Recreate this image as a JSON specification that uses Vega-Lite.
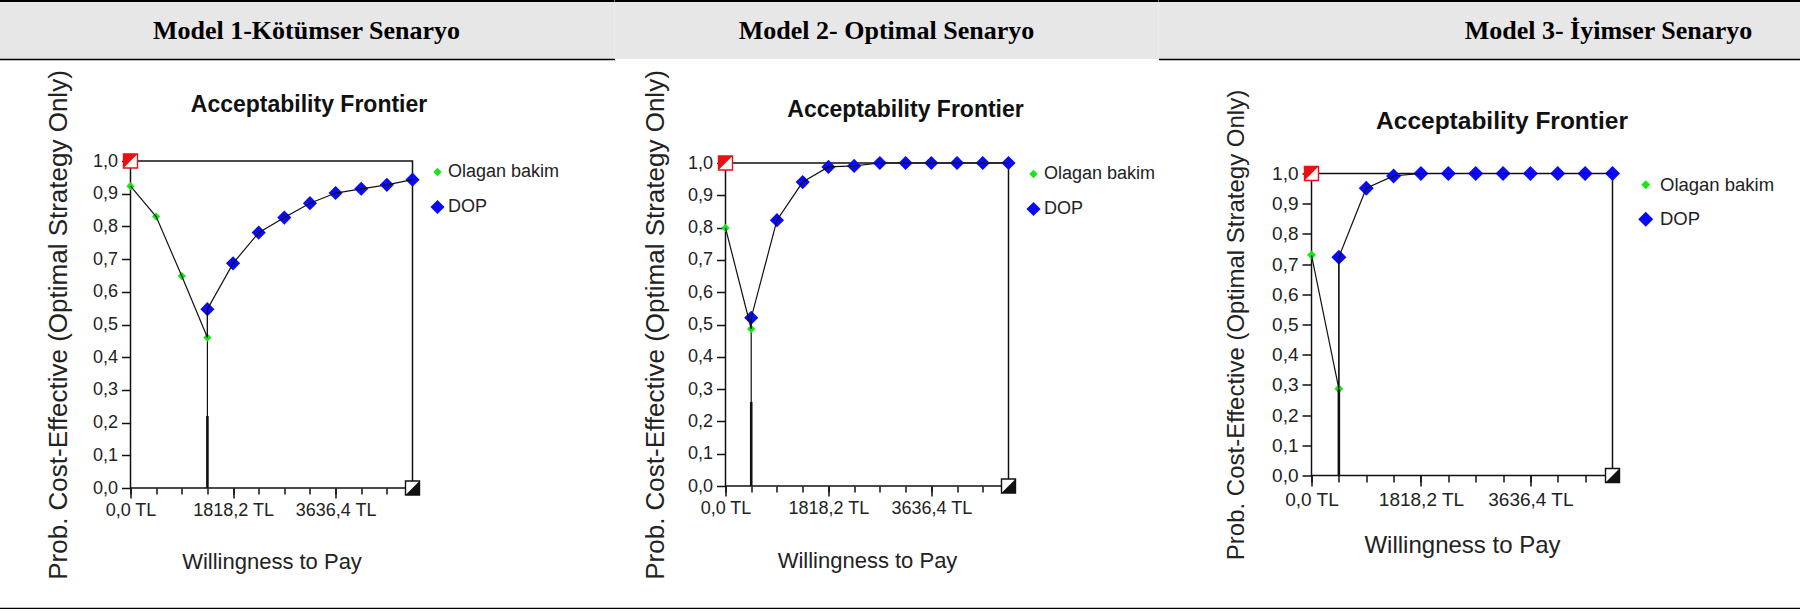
{
  "$schema": "https://vega.github.io/schema/vega-lite/v6.json",
  "background": "white",
  "padding": {"left": -1.5, "top": 0, "right": -259, "bottom": 0},
  "config": {"view": {"stroke": null}, "font": "Liberation Sans"},
  "datasets": {
    "hdr1": [{"model": "Model 1-Kötümser Senaryo"}],
    "hdr2": [{"model": "Model 2- Optimal Senaryo"}],
    "hdr3": [{"model": "Model 3- İyimser Senaryo"}],
    "footer": [{"k": "end"}],
    "gap": [{"k": "gap"}],
    "corner_start": [{"wtp": 0, "p": 1}],
    "corner_end": [{"wtp": 5000, "p": 0}],
    "m1_pts": [
      {"i": 0, "wtp": 0, "p": 0.923, "strategy": "Olagan bakim"},
      {"i": 1, "wtp": 454.5455, "p": 0.830, "strategy": "Olagan bakim"},
      {"i": 2, "wtp": 909.0909, "p": 0.648, "strategy": "Olagan bakim"},
      {"i": 3, "wtp": 1363.6364, "p": 0.460, "strategy": "Olagan bakim"},
      {"i": 4, "wtp": 1363.6364, "p": 0.547, "strategy": "DOP"},
      {"i": 5, "wtp": 1818.1818, "p": 0.687, "strategy": "DOP"},
      {"i": 6, "wtp": 2272.7273, "p": 0.781, "strategy": "DOP"},
      {"i": 7, "wtp": 2727.2727, "p": 0.827, "strategy": "DOP"},
      {"i": 8, "wtp": 3181.8182, "p": 0.871, "strategy": "DOP"},
      {"i": 9, "wtp": 3636.3636, "p": 0.902, "strategy": "DOP"},
      {"i": 10, "wtp": 4090.9091, "p": 0.915, "strategy": "DOP"},
      {"i": 11, "wtp": 4545.4545, "p": 0.927, "strategy": "DOP"},
      {"i": 12, "wtp": 5000, "p": 0.943, "strategy": "DOP"}
    ],
    "m1_drop": [{"wtp": 1363.6364, "lo": 0, "hi": 0.547}],
    "m1_bold": [{"wtp": 1363.6364, "lo": 0, "hi": 0.22}],
    "m2_pts": [
      {"i": 0, "wtp": 0, "p": 0.799, "strategy": "Olagan bakim"},
      {"i": 1, "wtp": 454.5455, "p": 0.486, "strategy": "Olagan bakim"},
      {"i": 2, "wtp": 454.5455, "p": 0.521, "strategy": "DOP"},
      {"i": 3, "wtp": 909.0909, "p": 0.823, "strategy": "DOP"},
      {"i": 4, "wtp": 1363.6364, "p": 0.941, "strategy": "DOP"},
      {"i": 5, "wtp": 1818.1818, "p": 0.988, "strategy": "DOP"},
      {"i": 6, "wtp": 2272.7273, "p": 0.991, "strategy": "DOP"},
      {"i": 7, "wtp": 2727.2727, "p": 1.0, "strategy": "DOP"},
      {"i": 8, "wtp": 3181.8182, "p": 1.0, "strategy": "DOP"},
      {"i": 9, "wtp": 3636.3636, "p": 1.0, "strategy": "DOP"},
      {"i": 10, "wtp": 4090.9091, "p": 1.0, "strategy": "DOP"},
      {"i": 11, "wtp": 4545.4545, "p": 1.0, "strategy": "DOP"},
      {"i": 12, "wtp": 5000, "p": 1.0, "strategy": "DOP"}
    ],
    "m2_drop": [{"wtp": 454.5455, "lo": 0, "hi": 0.521}],
    "m2_bold": [{"wtp": 454.5455, "lo": 0, "hi": 0.26}],
    "m3_pts": [
      {"i": 0, "wtp": 0, "p": 0.730, "strategy": "Olagan bakim"},
      {"i": 1, "wtp": 454.5455, "p": 0.287, "strategy": "Olagan bakim"},
      {"i": 2, "wtp": 454.5455, "p": 0.723, "strategy": "DOP"},
      {"i": 3, "wtp": 909.0909, "p": 0.951, "strategy": "DOP"},
      {"i": 4, "wtp": 1363.6364, "p": 0.992, "strategy": "DOP"},
      {"i": 5, "wtp": 1818.1818, "p": 1.0, "strategy": "DOP"},
      {"i": 6, "wtp": 2272.7273, "p": 1.0, "strategy": "DOP"},
      {"i": 7, "wtp": 2727.2727, "p": 1.0, "strategy": "DOP"},
      {"i": 8, "wtp": 3181.8182, "p": 1.0, "strategy": "DOP"},
      {"i": 9, "wtp": 3636.3636, "p": 1.0, "strategy": "DOP"},
      {"i": 10, "wtp": 4090.9091, "p": 1.0, "strategy": "DOP"},
      {"i": 11, "wtp": 4545.4545, "p": 1.0, "strategy": "DOP"},
      {"i": 12, "wtp": 5000, "p": 1.0, "strategy": "DOP"}
    ],
    "m3_drop": [{"wtp": 454.5455, "lo": 0, "hi": 0.723}],
    "m3_bold": [{"wtp": 454.5455, "lo": 0, "hi": 0.285}]
  },
  "spacing": 9,
  "vconcat": [
    {
      "spacing": 0,
      "bounds": "flush",
      "hconcat": [
        {
          "width": 616, "height": 59,
          "view": {"fill": "#e7e7e7", "stroke": null},
          "data": {"name": "hdr1"},
          "resolve": {"axis": {"x": "independent"}},
          "layer": [
            {"mark": {"type": "text", "font": "Liberation Serif", "fontWeight": "bold", "fontSize": 26, "color": "#000", "baseline": "middle", "dy": 1.5},
             "encoding": {"x": {"field": "model", "type": "nominal", "axis": {"orient": "top", "title": null, "labels": false, "ticks": false, "grid": false, "domainColor": "#000", "domainWidth": 3}},
                          "y": {"datum": 0.5, "type": "quantitative", "scale": {"domain": [0, 1]}, "axis": null},
                          "text": {"field": "model"}}},
            {"mark": {"type": "text", "text": ""},
             "encoding": {"x": {"field": "model", "type": "nominal", "axis": {"orient": "bottom", "title": null, "labels": false, "ticks": false, "grid": false, "domainColor": "#000", "domainWidth": 1.5}},
                          "y": {"datum": 0.5, "type": "quantitative", "axis": null}}}
          ]
        },
        {
          "width": 544, "height": 59,
          "view": {"fill": "#e7e7e7", "stroke": null},
          "data": {"name": "hdr2"},
          "mark": {"type": "text", "font": "Liberation Serif", "fontWeight": "bold", "fontSize": 26, "color": "#000", "baseline": "middle", "dy": 1.5},
          "encoding": {"x": {"field": "model", "type": "nominal", "axis": {"orient": "top", "title": null, "labels": false, "ticks": false, "grid": false, "domainColor": "#000", "domainWidth": 3}},
                       "y": {"datum": 0.5, "type": "quantitative", "scale": {"domain": [0, 1]}, "axis": null},
                       "text": {"field": "model"}}
        },
        {
          "width": 900, "height": 59,
          "view": {"fill": "#e7e7e7", "stroke": null},
          "data": {"name": "hdr3"},
          "resolve": {"axis": {"x": "independent"}},
          "layer": [
            {"mark": {"type": "text", "font": "Liberation Serif", "fontWeight": "bold", "fontSize": 26, "color": "#000", "baseline": "middle", "dy": 1.5},
             "encoding": {"x": {"field": "model", "type": "nominal", "axis": {"orient": "top", "title": null, "labels": false, "ticks": false, "grid": false, "domainColor": "#000", "domainWidth": 3}},
                          "y": {"datum": 0.5, "type": "quantitative", "scale": {"domain": [0, 1]}, "axis": null},
                          "text": {"field": "model"}}},
            {"mark": {"type": "text", "text": ""},
             "encoding": {"x": {"field": "model", "type": "nominal", "axis": {"orient": "bottom", "title": null, "labels": false, "ticks": false, "grid": false, "domainColor": "#000", "domainWidth": 1.5}},
                          "y": {"datum": 0.5, "type": "quantitative", "axis": null}}}
          ]
        }
      ]
    },
    {
      "spacing": 0,
      "bounds": "flush",
      "center": true,
      "resolve": {"scale": {"color": "independent", "shape": "independent", "size": "independent"}},
      "hconcat": [
        {"width": 132, "height": 1, "view": {"stroke": null}, "data": {"name": "gap"}, "mark": {"type": "text", "text": ""}},
        {
          "width": 282, "height": 327,
          "view": {"stroke": "#111", "strokeWidth": 1.5},
          "resolve": {"axis": {"x": "independent", "y": "independent"}},
          "layer": [
            {
              "data": {"name": "m1_drop"},
              "mark": {"type": "rule", "color": "#111", "strokeWidth": 1.2},
              "encoding": {
                "x": {"field": "wtp", "type": "quantitative", "scale": {"domain": [0, 5000], "nice": false, "zero": false},
                  "axis": {"orient": "bottom", "values": [0, 454.5455, 909.0909, 1363.6364, 1818.1818, 2272.7273, 2727.2727, 3181.8182, 3636.3636, 4090.9091, 4545.4545, 5000], "tickSize": 6, "tickWidth": 1.5, "tickColor": "#111", "labels": false, "domain": false, "grid": false, "title": null}},
                "y": {"field": "lo", "type": "quantitative", "scale": {"domain": [0, 1], "nice": false},
                  "axis": {"orient": "left", "values": [0, 0.1, 0.2, 0.3, 0.4, 0.5, 0.6, 0.7, 0.8, 0.9, 1], "tickSize": 9, "tickWidth": 1.5, "tickColor": "#111", "domain": false, "grid": false, "labelFontSize": 18, "labelPadding": 4, "labelColor": "#222", "labelOverlap": false, "labelExpr": "replace(format(datum.value, '.1f'), '.', ',')", "title": "Prob. Cost-Effective (Optimal Strategy Only)", "titleFontSize": 26, "titleFontWeight": "normal", "titleColor": "#222", "titleX": -63.7, "titleBaseline": "alphabetic"}},
                "y2": {"field": "hi"}
              }
            },
            {
              "data": {"name": "m1_pts"},
              "mark": {"type": "point", "filled": true, "opacity": 1, "strokeWidth": 0},
              "encoding": {
                "x": {"field": "wtp", "type": "quantitative", "axis": {"orient": "top", "domain": false, "ticks": false, "labels": false, "grid": false, "title": "Acceptability Frontier", "titleFontSize": 23, "titleFontWeight": "bold", "titleColor": "#111", "titleX": 178, "titleY": -49.5, "titleBaseline": "alphabetic"}},
                "y": {"field": "p", "type": "quantitative", "axis": null},
                "color": {"field": "strategy", "type": "nominal", "title": null, "scale": {"domain": ["Olagan bakim", "DOP"], "range": ["#19e619", "#0a0af5"]},
                  "legend": {"orient": "right", "offset": 14, "padding": 2, "rowPadding": 17, "labelOffset": 1.5, "labelFontSize": 18, "labelColor": "#222", "symbolStrokeWidth": 0, "symbolOpacity": 1}},
                "shape": {"field": "strategy", "type": "nominal", "title": null, "scale": {"domain": ["Olagan bakim", "DOP"], "range": ["diamond", "diamond"]}},
                "size": {"field": "strategy", "type": "nominal", "title": null, "scale": {"domain": ["Olagan bakim", "DOP"], "range": [70, 200]}}
              }
            },
            {
              "data": {"name": "m1_pts"},
              "mark": {"type": "line", "color": "#111", "strokeWidth": 1.2},
              "encoding": {
                "x": {"field": "wtp", "type": "quantitative",
                  "axis": {"orient": "bottom", "values": [0, 1818.1818, 3636.3636], "tickSize": 10, "tickWidth": 1.5, "tickColor": "#111", "domain": false, "grid": false, "labelFontSize": 18, "labelColor": "#222", "labelPadding": 3.5, "labelFlush": false, "labelOverlap": false, "labelExpr": "replace(format(datum.value, '.1f'), '.', ',') + ' TL'", "title": "Willingness to Pay", "titleFontSize": 22, "titleFontWeight": "normal", "titleColor": "#222", "titleY": 63.5, "titleBaseline": "top"}},
                "y": {"field": "p", "type": "quantitative", "axis": null},
                "order": {"field": "i", "type": "quantitative"}
              }
            },
            {
              "data": {"name": "m1_bold"},
              "mark": {"type": "rule", "color": "#111", "strokeWidth": 2.6},
              "encoding": {"x": {"field": "wtp", "type": "quantitative", "axis": null}, "y": {"field": "lo", "type": "quantitative", "axis": null}, "y2": {"field": "hi"}}
            },
            {
              "data": {"name": "corner_start"},
              "mark": {"type": "point", "shape": "square", "size": 196, "filled": true, "fill": "white", "stroke": "#e81010", "strokeWidth": 1.4, "opacity": 1},
              "encoding": {"x": {"field": "wtp", "type": "quantitative", "axis": null}, "y": {"field": "p", "type": "quantitative", "axis": null}}
            },
            {
              "data": {"name": "corner_start"},
              "mark": {"type": "point", "shape": "M-1,-1L1,-1L-1,1Z", "size": 196, "filled": true, "color": "#e81010", "opacity": 1, "strokeWidth": 0},
              "encoding": {"x": {"field": "wtp", "type": "quantitative", "axis": null}, "y": {"field": "p", "type": "quantitative", "axis": null}}
            },
            {
              "data": {"name": "corner_end"},
              "mark": {"type": "point", "shape": "square", "size": 196, "filled": true, "fill": "white", "stroke": "#111", "strokeWidth": 1.4, "opacity": 1},
              "encoding": {"x": {"field": "wtp", "type": "quantitative", "axis": null}, "y": {"field": "p", "type": "quantitative", "axis": null}}
            },
            {
              "data": {"name": "corner_end"},
              "mark": {"type": "point", "shape": "M1,-1L1,1L-1,1Z", "size": 196, "filled": true, "color": "#111", "opacity": 1, "strokeWidth": 0},
              "encoding": {"x": {"field": "wtp", "type": "quantitative", "axis": null}, "y": {"field": "p", "type": "quantitative", "axis": null}}
            }
          ]
        },
        {"width": 313, "height": 1, "view": {"stroke": null}, "data": {"name": "gap"}, "mark": {"type": "text", "text": ""}},
        {
          "width": 283, "height": 323,
          "view": {"stroke": "#111", "strokeWidth": 1.5},
          "resolve": {"axis": {"x": "independent", "y": "independent"}},
          "layer": [
            {
              "data": {"name": "m2_drop"},
              "mark": {"type": "rule", "color": "#111", "strokeWidth": 1.2},
              "encoding": {
                "x": {"field": "wtp", "type": "quantitative", "scale": {"domain": [0, 5000], "nice": false, "zero": false},
                  "axis": {"orient": "bottom", "values": [0, 454.5455, 909.0909, 1363.6364, 1818.1818, 2272.7273, 2727.2727, 3181.8182, 3636.3636, 4090.9091, 4545.4545, 5000], "tickSize": 6, "tickWidth": 1.5, "tickColor": "#111", "labels": false, "domain": false, "grid": false, "title": null}},
                "y": {"field": "lo", "type": "quantitative", "scale": {"domain": [0, 1], "nice": false},
                  "axis": {"orient": "left", "values": [0, 0.1, 0.2, 0.3, 0.4, 0.5, 0.6, 0.7, 0.8, 0.9, 1], "tickSize": 9, "tickWidth": 1.5, "tickColor": "#111", "domain": false, "grid": false, "labelFontSize": 18, "labelPadding": 4, "labelColor": "#222", "labelOverlap": false, "labelExpr": "replace(format(datum.value, '.1f'), '.', ',')", "title": "Prob. Cost-Effective (Optimal Strategy Only)", "titleFontSize": 26, "titleFontWeight": "normal", "titleColor": "#222", "titleX": -62.1, "titleBaseline": "alphabetic"}},
                "y2": {"field": "hi"}
              }
            },
            {
              "data": {"name": "m2_pts"},
              "mark": {"type": "point", "filled": true, "opacity": 1, "strokeWidth": 0},
              "encoding": {
                "x": {"field": "wtp", "type": "quantitative", "axis": {"orient": "top", "domain": false, "ticks": false, "labels": false, "grid": false, "title": "Acceptability Frontier", "titleFontSize": 23, "titleFontWeight": "bold", "titleColor": "#111", "titleX": 179.5, "titleY": -47, "titleBaseline": "alphabetic"}},
                "y": {"field": "p", "type": "quantitative", "axis": null},
                "color": {"field": "strategy", "type": "nominal", "title": null, "scale": {"domain": ["Olagan bakim", "DOP"], "range": ["#19e619", "#0a0af5"]},
                  "legend": {"orient": "right", "offset": 14, "padding": 2, "rowPadding": 17, "labelOffset": 1.5, "labelFontSize": 18, "labelColor": "#222", "symbolStrokeWidth": 0, "symbolOpacity": 1}},
                "shape": {"field": "strategy", "type": "nominal", "title": null, "scale": {"domain": ["Olagan bakim", "DOP"], "range": ["diamond", "diamond"]}},
                "size": {"field": "strategy", "type": "nominal", "title": null, "scale": {"domain": ["Olagan bakim", "DOP"], "range": [70, 200]}}
              }
            },
            {
              "data": {"name": "m2_pts"},
              "mark": {"type": "line", "color": "#111", "strokeWidth": 1.2},
              "encoding": {
                "x": {"field": "wtp", "type": "quantitative",
                  "axis": {"orient": "bottom", "values": [0, 1818.1818, 3636.3636], "tickSize": 10, "tickWidth": 1.5, "tickColor": "#111", "domain": false, "grid": false, "labelFontSize": 18, "labelColor": "#222", "labelPadding": 3, "labelFlush": false, "labelOverlap": false, "labelExpr": "replace(format(datum.value, '.1f'), '.', ',') + ' TL'", "title": "Willingness to Pay", "titleFontSize": 22, "titleFontWeight": "normal", "titleColor": "#222", "titleY": 64, "titleBaseline": "top"}},
                "y": {"field": "p", "type": "quantitative", "axis": null},
                "order": {"field": "i", "type": "quantitative"}
              }
            },
            {
              "data": {"name": "m2_bold"},
              "mark": {"type": "rule", "color": "#111", "strokeWidth": 2.6},
              "encoding": {"x": {"field": "wtp", "type": "quantitative", "axis": null}, "y": {"field": "lo", "type": "quantitative", "axis": null}, "y2": {"field": "hi"}}
            },
            {
              "data": {"name": "corner_start"},
              "mark": {"type": "point", "shape": "square", "size": 196, "filled": true, "fill": "white", "stroke": "#e81010", "strokeWidth": 1.4, "opacity": 1},
              "encoding": {"x": {"field": "wtp", "type": "quantitative", "axis": null}, "y": {"field": "p", "type": "quantitative", "axis": null}}
            },
            {
              "data": {"name": "corner_start"},
              "mark": {"type": "point", "shape": "M-1,-1L1,-1L-1,1Z", "size": 196, "filled": true, "color": "#e81010", "opacity": 1, "strokeWidth": 0},
              "encoding": {"x": {"field": "wtp", "type": "quantitative", "axis": null}, "y": {"field": "p", "type": "quantitative", "axis": null}}
            },
            {
              "data": {"name": "corner_end"},
              "mark": {"type": "point", "shape": "square", "size": 196, "filled": true, "fill": "white", "stroke": "#111", "strokeWidth": 1.4, "opacity": 1},
              "encoding": {"x": {"field": "wtp", "type": "quantitative", "axis": null}, "y": {"field": "p", "type": "quantitative", "axis": null}}
            },
            {
              "data": {"name": "corner_end"},
              "mark": {"type": "point", "shape": "M1,-1L1,1L-1,1Z", "size": 196, "filled": true, "color": "#111", "opacity": 1, "strokeWidth": 0},
              "encoding": {"x": {"field": "wtp", "type": "quantitative", "axis": null}, "y": {"field": "p", "type": "quantitative", "axis": null}}
            }
          ]
        },
        {"width": 303, "height": 1, "view": {"stroke": null}, "data": {"name": "gap"}, "mark": {"type": "text", "text": ""}},
        {
          "width": 301, "height": 302,
          "view": {"stroke": "#111", "strokeWidth": 1.5},
          "resolve": {"axis": {"x": "independent", "y": "independent"}},
          "layer": [
            {
              "data": {"name": "m3_drop"},
              "mark": {"type": "rule", "color": "#111", "strokeWidth": 1.2},
              "encoding": {
                "x": {"field": "wtp", "type": "quantitative", "scale": {"domain": [0, 5000], "nice": false, "zero": false},
                  "axis": {"orient": "bottom", "values": [0, 454.5455, 909.0909, 1363.6364, 1818.1818, 2272.7273, 2727.2727, 3181.8182, 3636.3636, 4090.9091, 4545.4545, 5000], "tickSize": 6.5, "tickWidth": 1.5, "tickColor": "#111", "labels": false, "domain": false, "grid": false, "title": null}},
                "y": {"field": "lo", "type": "quantitative", "scale": {"domain": [0, 1], "nice": false},
                  "axis": {"orient": "left", "values": [0, 0.1, 0.2, 0.3, 0.4, 0.5, 0.6, 0.7, 0.8, 0.9, 1], "tickSize": 9.5, "tickWidth": 1.5, "tickColor": "#111", "domain": false, "grid": false, "labelFontSize": 19, "labelPadding": 4, "labelColor": "#222", "labelOverlap": false, "labelExpr": "replace(format(datum.value, '.1f'), '.', ',')", "title": "Prob. Cost-Effective (Optimal Strategy Only)", "titleFontSize": 24, "titleFontWeight": "normal", "titleColor": "#222", "titleX": -67.9, "titleBaseline": "alphabetic"}},
                "y2": {"field": "hi"}
              }
            },
            {
              "data": {"name": "m3_pts"},
              "mark": {"type": "point", "filled": true, "opacity": 1, "strokeWidth": 0},
              "encoding": {
                "x": {"field": "wtp", "type": "quantitative", "axis": {"orient": "top", "domain": false, "ticks": false, "labels": false, "grid": false, "title": "Acceptability Frontier", "titleFontSize": 24.5, "titleFontWeight": "bold", "titleColor": "#111", "titleX": 190, "titleY": -45.5, "titleBaseline": "alphabetic"}},
                "y": {"field": "p", "type": "quantitative", "axis": null},
                "color": {"field": "strategy", "type": "nominal", "title": null, "scale": {"domain": ["Olagan bakim", "DOP"], "range": ["#19e619", "#0a0af5"]},
                  "legend": {"orient": "right", "offset": 22, "padding": 2, "rowPadding": 15.5, "labelOffset": 5, "labelFontSize": 18.5, "labelColor": "#222", "symbolStrokeWidth": 0, "symbolOpacity": 1}},
                "shape": {"field": "strategy", "type": "nominal", "title": null, "scale": {"domain": ["Olagan bakim", "DOP"], "range": ["diamond", "diamond"]}},
                "size": {"field": "strategy", "type": "nominal", "title": null, "scale": {"domain": ["Olagan bakim", "DOP"], "range": [80, 225]}}
              }
            },
            {
              "data": {"name": "m3_pts"},
              "mark": {"type": "line", "color": "#111", "strokeWidth": 1.2},
              "encoding": {
                "x": {"field": "wtp", "type": "quantitative",
                  "axis": {"orient": "bottom", "values": [0, 1818.1818, 3636.3636], "tickSize": 10.5, "tickWidth": 1.5, "tickColor": "#111", "domain": false, "grid": false, "labelFontSize": 19, "labelColor": "#222", "labelPadding": 4.5, "labelFlush": false, "labelOverlap": false, "labelExpr": "replace(format(datum.value, '.1f'), '.', ',') + ' TL'", "title": "Willingness to Pay", "titleFontSize": 24, "titleFontWeight": "normal", "titleColor": "#222", "titleY": 58, "titleBaseline": "top"}},
                "y": {"field": "p", "type": "quantitative", "axis": null},
                "order": {"field": "i", "type": "quantitative"}
              }
            },
            {
              "data": {"name": "m3_bold"},
              "mark": {"type": "rule", "color": "#111", "strokeWidth": 2.6},
              "encoding": {"x": {"field": "wtp", "type": "quantitative", "axis": null}, "y": {"field": "lo", "type": "quantitative", "axis": null}, "y2": {"field": "hi"}}
            },
            {
              "data": {"name": "corner_start"},
              "mark": {"type": "point", "shape": "square", "size": 196, "filled": true, "fill": "white", "stroke": "#e81010", "strokeWidth": 1.4, "opacity": 1},
              "encoding": {"x": {"field": "wtp", "type": "quantitative", "axis": null}, "y": {"field": "p", "type": "quantitative", "axis": null}}
            },
            {
              "data": {"name": "corner_start"},
              "mark": {"type": "point", "shape": "M-1,-1L1,-1L-1,1Z", "size": 196, "filled": true, "color": "#e81010", "opacity": 1, "strokeWidth": 0},
              "encoding": {"x": {"field": "wtp", "type": "quantitative", "axis": null}, "y": {"field": "p", "type": "quantitative", "axis": null}}
            },
            {
              "data": {"name": "corner_end"},
              "mark": {"type": "point", "shape": "square", "size": 196, "filled": true, "fill": "white", "stroke": "#111", "strokeWidth": 1.4, "opacity": 1},
              "encoding": {"x": {"field": "wtp", "type": "quantitative", "axis": null}, "y": {"field": "p", "type": "quantitative", "axis": null}}
            },
            {
              "data": {"name": "corner_end"},
              "mark": {"type": "point", "shape": "M1,-1L1,1L-1,1Z", "size": 196, "filled": true, "color": "#111", "opacity": 1, "strokeWidth": 0},
              "encoding": {"x": {"field": "wtp", "type": "quantitative", "axis": null}, "y": {"field": "p", "type": "quantitative", "axis": null}}
            }
          ]
        }
      ]
    },
    {
      "width": 2060, "height": 18.8,
      "view": {"stroke": null},
      "data": {"name": "footer"},
      "mark": {"type": "text", "text": ""},
      "encoding": {"x": {"field": "k", "type": "nominal", "axis": {"orient": "bottom", "title": null, "labels": false, "ticks": false, "grid": false, "domainColor": "#000", "domainWidth": 3}},
                   "y": {"datum": 0.5, "type": "quantitative", "scale": {"domain": [0, 1]}, "axis": null}}
    }
  ]
}
